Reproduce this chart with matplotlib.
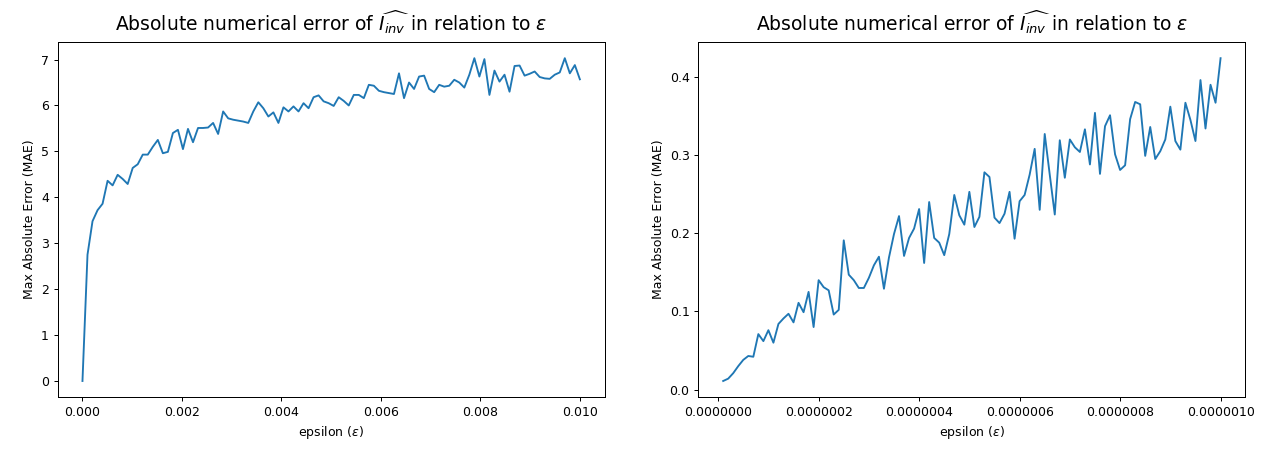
import numpy as np
import matplotlib.pyplot as plt
from matplotlib.ticker import FormatStrFormatter

# Великий крок epsilon: від 0 до 0.01
eps_large = np.linspace(0, 0.01, 100)
mae_large = [
    0.00, 2.75, 3.48, 3.72, 3.86, 4.36, 4.26, 4.49, 4.40, 4.29,
    4.64, 4.72, 4.93, 4.93, 5.10, 5.25, 4.96, 4.99, 5.40, 5.47,
    5.05, 5.49, 5.20, 5.51, 5.51, 5.52, 5.62, 5.38, 5.87, 5.72,
    5.69, 5.67, 5.65, 5.62, 5.87, 6.07, 5.94, 5.76, 5.85, 5.62,
    5.96, 5.87, 5.98, 5.87, 6.05, 5.94, 6.18, 6.22, 6.09, 6.05,
    5.99, 6.18, 6.10, 6.00, 6.23, 6.23, 6.16, 6.45, 6.43, 6.32,
    6.29, 6.27, 6.25, 6.70, 6.16, 6.50, 6.36, 6.63, 6.65, 6.36,
    6.29, 6.45, 6.41, 6.43, 6.56, 6.50, 6.39, 6.67, 7.03, 6.63,
    7.01, 6.23, 6.76, 6.52, 6.67, 6.30, 6.86, 6.87, 6.65, 6.69,
    6.74, 6.62, 6.59, 6.58, 6.67, 6.72, 7.03, 6.70, 6.88, 6.57,
]

# Малий крок epsilon: від 1e-8 до 1e-6
eps_small = np.linspace(1e-8, 1e-6, 100)
mae_small = [
    0.011, 0.014, 0.021, 0.030, 0.038, 0.043, 0.042, 0.071, 0.062, 0.076,
    0.060, 0.084, 0.091, 0.097, 0.086, 0.111, 0.099, 0.125, 0.080, 0.140,
    0.131, 0.127, 0.096, 0.102, 0.191, 0.147, 0.140, 0.130, 0.130, 0.143,
    0.159, 0.170, 0.129, 0.169, 0.199, 0.222, 0.171, 0.194, 0.206, 0.231,
    0.162, 0.240, 0.194, 0.188, 0.172, 0.199, 0.249, 0.223, 0.211, 0.253,
    0.208, 0.221, 0.278, 0.272, 0.220, 0.213, 0.225, 0.253, 0.193, 0.241,
    0.249, 0.275, 0.308, 0.230, 0.327, 0.275, 0.224, 0.319, 0.271, 0.320,
    0.310, 0.304, 0.333, 0.288, 0.354, 0.276, 0.337, 0.351, 0.301, 0.281,
    0.287, 0.346, 0.368, 0.365, 0.299, 0.336, 0.295, 0.305, 0.320, 0.362,
    0.318, 0.307, 0.367, 0.345, 0.318, 0.396, 0.334, 0.390, 0.367, 0.424,
]

title = r'Absolute numerical error of $\widehat{I_{inv}}$ in relation to $\varepsilon$'

fig, (ax1, ax2) = plt.subplots(1, 2, figsize=(1280 / 90, 457 / 90), dpi=90)
fig.subplots_adjust(left=0.045, right=0.973, bottom=0.131, top=0.908, wspace=0.171)

ax1.plot(eps_large, mae_large)
ax1.set_title(title, fontsize=15, pad=9)
ax1.set_xlabel(r'epsilon ($\varepsilon$)')
ax1.set_ylabel('Max Absolute Error (MAE)')

ax2.plot(eps_small, mae_small)
ax2.set_title(title, fontsize=15, pad=9)
ax2.set_xlabel(r'epsilon ($\varepsilon$)')
ax2.set_ylabel('Max Absolute Error (MAE)')
ax2.xaxis.set_major_formatter(FormatStrFormatter('%.7f'))

fig.savefig('out.png', dpi=90)
